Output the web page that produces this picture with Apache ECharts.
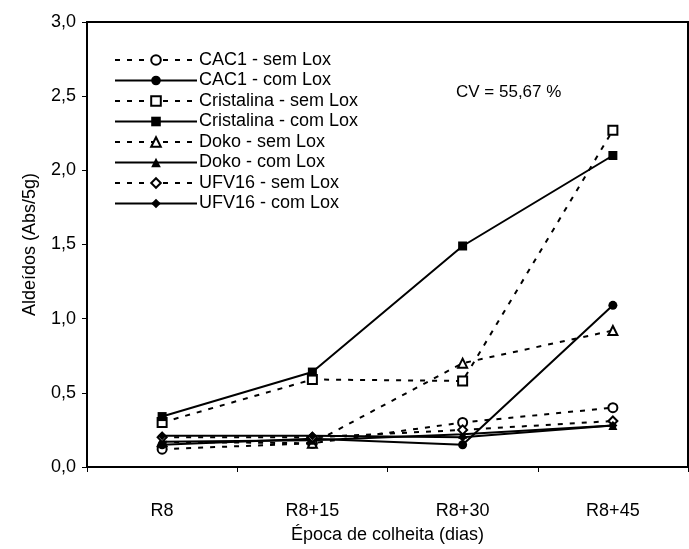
<!DOCTYPE html>
<html>
<head>
<meta charset="utf-8">
<script src="https://cdn.jsdelivr.net/npm/echarts@6/dist/echarts.min.js"></script>
<style>
  html, body { margin: 0; padding: 0; background: #fff; }
  #chart { width: 689px; height: 549px; }
</style>
</head>
<body>
<div id="chart"></div>
<script>
// Épocas de colheita
const categories = ['R8', 'R8+15', 'R8+30', 'R8+45'];

// Aldeídos (Abs/5g)
const cac1Sem = [0.12, 0.16, 0.30, 0.40];
const cac1Com = [0.15, 0.19, 0.15, 1.09];
const cristalinaSem = [0.30, 0.59, 0.58, 2.27];
const cristalinaCom = [0.34, 0.64, 1.49, 2.10];
const dokoSem = [0.17, 0.16, 0.70, 0.92];
const dokoCom = [0.17, 0.18, 0.22, 0.28];
const ufv16Sem = [0.20, 0.20, 0.25, 0.31];
const ufv16Com = [0.21, 0.21, 0.20, 0.28];

const seriesDefs = [
  { name: 'CAC1 - sem Lox', data: cac1Sem, symbol: 'circle', open: true },
  { name: 'CAC1 - com Lox', data: cac1Com, symbol: 'circle', open: false },
  { name: 'Cristalina - sem Lox', data: cristalinaSem, symbol: 'rect', open: true },
  { name: 'Cristalina - com Lox', data: cristalinaCom, symbol: 'rect', open: false },
  { name: 'Doko - sem Lox', data: dokoSem, symbol: 'triangle', open: true },
  { name: 'Doko - com Lox', data: dokoCom, symbol: 'triangle', open: false },
  { name: 'UFV16 - sem Lox', data: ufv16Sem, symbol: 'diamond', open: true },
  { name: 'UFV16 - com Lox', data: ufv16Com, symbol: 'diamond', open: false }
];

const FONT = '"Liberation Sans", Arial, sans-serif';
const chart = echarts.init(document.getElementById('chart'));

chart.setOption({
  backgroundColor: '#fff',
  animation: false,
  textStyle: { fontFamily: FONT, color: '#000' },
  grid: {
    left: 87, right: 1, top: 22, bottom: 74,
    show: true, borderColor: '#000', borderWidth: 2
  },
  legend: {
    orient: 'vertical',
    left: 109, top: 46,
    itemWidth: 82, itemHeight: 12, itemGap: 2.5,
    textStyle: { fontFamily: FONT, fontSize: 18, color: '#000', lineHeight: 18, padding: [0, 0, 0, -3] },
    data: seriesDefs.map(s => s.name)
  },
  graphic: [{
    type: 'text', left: 456, top: 84,
    style: { text: 'CV = 55,67 %', font: '17px ' + FONT, fill: '#000' }
  }],
  xAxis: {
    type: 'category',
    data: categories,
    boundaryGap: true,
    axisLine: { lineStyle: { color: '#000', width: 2 } },
    axisTick: { show: true, inside: false, length: 5, lineStyle: { color: '#000', width: 1 } },
    axisLabel: { color: '#000', fontSize: 18, fontFamily: FONT, margin: 35 },
    name: 'Época de colheita (dias)',
    nameLocation: 'middle',
    nameGap: 59,
    nameTextStyle: { color: '#000', fontSize: 18, fontFamily: FONT }
  },
  yAxis: {
    type: 'value',
    min: 0, max: 3, interval: 0.5,
    axisLine: { show: true, lineStyle: { color: '#000', width: 2 } },
    axisTick: { show: true, inside: false, length: 5, lineStyle: { color: '#000', width: 1 } },
    splitLine: { show: false },
    axisLabel: {
      color: '#000', fontSize: 18, fontFamily: FONT, margin: 11,
      formatter: v => v.toFixed(1).replace('.', ',')
    },
    name: 'Aldeídos (Abs/5g)',
    nameLocation: 'middle',
    nameGap: 48,
    nameTextStyle: { color: '#000', fontSize: 18, fontFamily: FONT }
  },
  series: seriesDefs.map(s => ({
    name: s.name,
    type: 'line',
    data: s.data,
    symbol: s.symbol,
    symbolSize: 9,
    showAllSymbol: true,
    lineStyle: { color: '#000', width: 2, type: s.open ? [5, 7] : 'solid' },
    itemStyle: { color: s.open ? '#fff' : '#000', borderColor: '#000', borderWidth: s.open ? 2 : 0 },
    emphasis: { disabled: true }
  }))
});
</script>
</body>
</html>
